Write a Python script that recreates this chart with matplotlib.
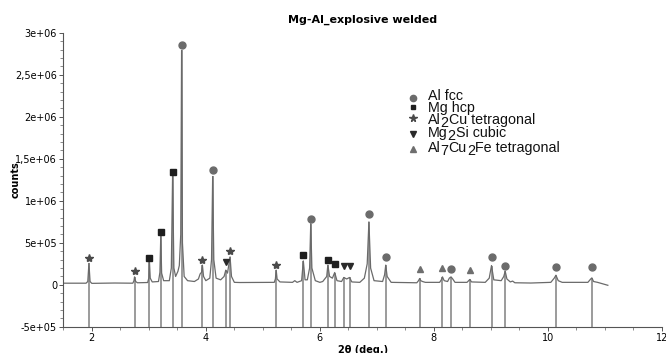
# XRD pattern of explosive welded Mg-Al with phase markers

import matplotlib
matplotlib.use("Agg")
import matplotlib.pyplot as plt
from matplotlib.ticker import MultipleLocator, FuncFormatter

two_theta = [1.50, 1.90, 1.93, 1.95, 1.97, 2.00, 2.40, 2.72, 2.74, 2.75, 2.77, 2.80,
             2.98, 3.00, 3.01, 3.025, 3.06, 3.17, 3.195, 3.21, 3.225, 3.26, 3.36, 3.395,
             3.417, 3.44, 3.47, 3.51, 3.535, 3.56, 3.575, 3.59, 3.62, 3.68, 3.80, 3.87,
             3.90, 3.925, 3.94, 3.96, 4.00, 4.07, 4.10, 4.12, 4.14, 4.18, 4.26, 4.32,
             4.35, 4.38, 4.425, 4.45, 4.50, 4.60, 5.20, 5.22, 5.234, 5.25, 5.30, 5.52,
             5.56, 5.60, 5.68, 5.71, 5.74, 5.78, 5.82, 5.84, 5.86, 5.92, 6.00, 6.05,
             6.12, 6.14, 6.17, 6.22, 6.26, 6.30, 6.38, 6.42, 6.47, 6.52, 6.56, 6.70,
             6.78, 6.83, 6.86, 6.89, 6.95, 7.10, 7.135, 7.155, 7.18, 7.25, 7.70, 7.73,
             7.75, 7.77, 7.80, 7.85, 8.10, 8.13, 8.15, 8.18, 8.24, 8.27, 8.30, 8.33,
             8.37, 8.58, 8.61, 8.63, 8.66, 8.90, 8.97, 9.01, 9.05, 9.18, 9.225, 9.25,
             9.28, 9.34, 9.38, 9.42, 9.70, 10.05, 10.11, 10.14, 10.18, 10.25, 10.70, 10.75,
             10.77, 10.80, 10.87, 11.05]
counts = [2.0e4, 2.0e4, 4e4, 2.55e5, 4e4, 1.8e4, 2.2e4, 2.0e4, 5e4, 0.95e5, 4e4, 2.5e4,
          2.8e4, 8e4, 2.94e5, 8e4, 3.5e4, 4e4, 1.5e5, 5.9e5, 1.4e5, 5e4, 5e4, 2.0e5,
          1.30e6, 2.0e5, 1.0e5, 1.6e5, 2.3e5, 6e5, 2.79e6, 5e5, 1.0e5, 5e4, 4e4, 7e4,
          1.3e5, 1.5e5, 2.35e5, 1.0e5, 5e4, 8e4, 3e5, 1.29e6, 3e5, 8e4, 6e4, 1.0e5,
          1.75e5, 1.4e5, 3.33e5, 1.0e5, 3e4, 2.8e4, 3e4, 7e4, 1.75e5, 7e4, 3.5e4, 3e4,
          5e4, 3e4, 5e4, 2.85e5, 6e4, 6e4, 2e5, 7.3e5, 2e5, 5e4, 3e4, 4e4,
          1.0e5, 2.35e5, 1.0e5, 8e4, 1.47e5, 5e4, 4e4, 8.8e4, 7e4, 8.8e4, 3.5e4, 3e4,
          8e4, 2.5e5, 7.5e5, 2e5, 5e4, 4e4, 1.2e5, 2.35e5, 1.0e5, 3e4, 2.5e4, 5e4,
          7.6e4, 5e4, 4e4, 3e4, 3e4, 6e4, 9.5e4, 5e4, 4e4, 8e4, 9.5e4, 7e4,
          3e4, 3e4, 5e4, 6.4e4, 3.5e4, 3e4, 8e4, 2.3e5, 6e4, 5e4, 1.0e5, 1.63e5,
          7e4, 3.5e4, 4.5e4, 2.5e4, 2.2e4, 3e4, 8e4, 1.15e5, 5e4, 3e4, 3e4, 7e4,
          8.3e4, 4e4, 3e4, -5e3]

# reference peaks per phase: position, peak top, marker height
al_pos = [3.575, 4.12, 5.84, 6.86, 7.155, 8.30, 9.01, 9.25, 10.14, 10.77]
al_top = [2.79e6, 1.29e6, 7.3e5, 7.5e5, 2.35e5, 9.5e4, 2.3e5, 1.63e5, 1.15e5, 8.3e4]
al_mark = [2.85e6, 1.365e6, 7.8e5, 8.4e5, 3.26e5, 1.83e5, 3.26e5, 2.26e5, 2.07e5, 2.07e5]

mg_pos = [3.01, 3.21, 3.417, 5.71, 6.14, 6.26]
mg_top = [2.94e5, 5.9e5, 1.30e6, 2.85e5, 2.35e5, 1.47e5]
mg_mark = [3.2e5, 6.24e5, 1.345e6, 3.6e5, 2.94e5, 2.43e5]

al2cu_pos = [1.95, 2.75, 3.94, 4.425, 5.234]
al2cu_top = [2.55e5, 0.95e5, 2.35e5, 3.33e5, 1.75e5]
al2cu_mark = [3.2e5, 1.63e5, 2.94e5, 4.05e5, 2.35e5]

mg2si_pos = [4.35, 6.42, 6.52]
mg2si_top = [1.75e5, 8.8e4, 8.8e4]
mg2si_mark = [2.7e5, 2.2e5, 2.2e5]

al7_pos = [7.75, 8.15, 8.63]
al7_top = [7.6e4, 9.5e4, 6.4e4]
al7_mark = [1.83e5, 1.95e5, 1.75e5]

# legend labels as (piece, is_subscript)
al_label = [("Al fcc", 0)]
mg_label = [("Mg hcp", 0)]
al2cu_label = [("Al", 0), ("2", 1), ("Cu tetragonal", 0)]
mg2si_label = [("Mg", 0), ("2", 1), ("Si cubic", 0)]
al7_label = [("Al", 0), ("7", 1), ("Cu", 0), ("2", 1), ("Fe tetragonal", 0)]

phases = [
    (al_pos, al_top, al_mark, "o", "#6b6b6b", 5.0, al_label),
    (mg_pos, mg_top, mg_mark, "s", "#1e1e1e", 4.0, mg_label),
    (al2cu_pos, al2cu_top, al2cu_mark, "*", "#4a4a4a", 6.0, al2cu_label),
    (mg2si_pos, mg2si_top, mg2si_mark, "v", "#2a2a2a", 5.0, mg2si_label),
    (al7_pos, al7_top, al7_mark, "^", "#6e6e6e", 5.0, al7_label),
]

W, H = 666, 353
fig = plt.figure(figsize=(W / 100, H / 100), dpi=100)
ax = fig.add_axes([0.095, 0.074, 0.899, 0.833])

ymin = -5e5
for pos, top, mark, m, col, ms, label in phases:
    ax.vlines(pos, ymin, top, color="#939393", lw=1.3, zorder=1)
    ax.plot(pos, mark, ls="none", marker=m, color=col, ms=ms, mec=col, zorder=3)

ax.plot(two_theta, counts, color="#6a6a6a", lw=0.9, zorder=2)

ax.set_xlim(1.5, 12)
ax.set_ylim(-5e5, 3e6)
ax.xaxis.set_major_locator(MultipleLocator(2))
ax.xaxis.set_minor_locator(MultipleLocator(0.5))
ax.yaxis.set_major_locator(MultipleLocator(5e5))
ax.yaxis.set_minor_locator(MultipleLocator(1e5))


def fmt_y(v, p):
    if v == 0:
        return "0"
    m, e = ("%.1e" % v).split("e")
    m = m.rstrip("0").rstrip(".").replace(".", ",")
    return "%se%s%02d" % (m, "+" if int(e) >= 0 else "-", abs(int(e)))


ax.yaxis.set_major_formatter(FuncFormatter(fmt_y))
ax.tick_params(which="major", length=3, width=0.7, color="#555555", labelsize=7, pad=1.5)
ax.tick_params(which="minor", length=2, width=0.6, color="#777777")

for side in ["top", "right"]:
    ax.spines[side].set_visible(False)
for side in ["left", "bottom"]:
    ax.spines[side].set_color("#555555")
    ax.spines[side].set_linewidth(0.8)

ax.set_title("Mg-Al_explosive welded", fontsize=8, fontweight="bold", pad=7)
ax.set_xlabel("2θ (deg.)", fontsize=7, fontweight="bold", labelpad=1)
ax.set_ylabel("counts", fontsize=7, fontweight="bold")
ax.yaxis.set_label_coords(-0.071, 0.5)

# hand-made legend, subscripts are full size and just lowered
marker_y = [97.7, 106.7, 118.3, 134, 149]
text_base = [100, 112.3, 124, 137, 151.7]
sub_drop = 2.2  # points
font = dict(family="Liberation Sans", size=10.3, color="#111111")
for i, (pos, top, mark, m, col, ms, label) in enumerate(phases):
    fig.add_artist(plt.Line2D([413 / W], [1 - marker_y[i] / H], ls="none", marker=m,
                              color=col, ms=ms - 0.5, mec=col, transform=fig.transFigure))
    t = fig.text(428 / W, 1 - text_base[i] / H, label[0][0], va="baseline", **font)
    prev = label[0][1]
    for piece, sub in label[1:]:
        t = ax.annotate(piece, xy=(1, 0), xycoords=t, xytext=(0, (prev - sub) * sub_drop),
                        textcoords="offset points", va="bottom", ha="left", **font)
        prev = sub

fig.savefig("out.png", dpi=100)
